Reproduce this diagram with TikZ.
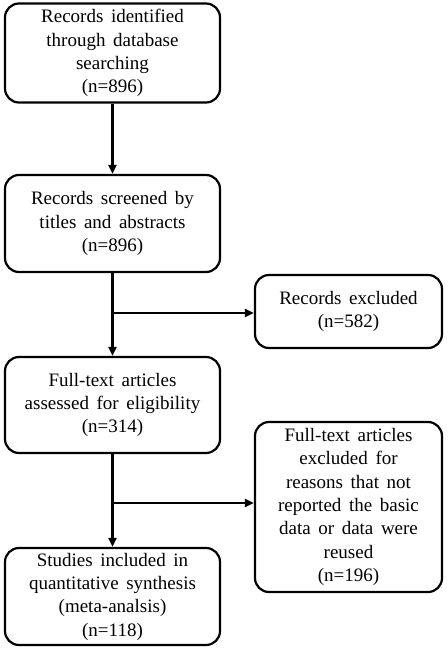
\documentclass[tikz,border=0pt]{standalone}
\usepackage{fontspec}
\setmainfont{Liberation Serif}
\usetikzlibrary{arrows.meta}
\newcommand{\myboxfont}{\fontsize{19}{23.3}\selectfont\spaceskip=0.4em plus 0.1em\relax}
\begin{document}
\begin{tikzpicture}[x=1pt,y=-1pt,
  box/.style={draw=black,line width=2.2pt,rounded corners=14pt,align=center,
    inner sep=0pt,minimum width=#1,font=\myboxfont},
  box/.default=215pt,
  conn/.style={line width=2.2pt,-{Triangle[length=9pt,width=8pt]}}]
\useasboundingbox (0,0) rectangle (447,650);
\node[box,minimum height=99pt] (b1) at (112.5,53) {Records identified\\through database\\searching\\(n=896)};
\node[box,minimum height=97pt] (b2) at (112.5,223.5) {Records screened by\\titles and abstracts\\(n=896)};
\node[box=187pt,minimum height=73pt] (b3) at (348.5,311.5) {Records excluded\\(n=582)};
\node[box,minimum height=96pt] (b4) at (112.5,405) {Full-text articles\\assessed for eligibility\\(n=314)};
\node[box=187pt,minimum height=170pt] (b5) at (348.5,507) {Full-text articles\\excluded for\\reasons that not\\reported the basic\\data or data were\\reused\\(n=196)};
\node[box,minimum height=97pt] (b6) at (112.5,596.5) {Studies included in\\quantitative synthesis\\(meta-analsis)\\(n=118)};
\draw[conn] (b1) -- (b2);
\draw[conn] (b2) -- (b4);
\draw[conn] (b4) -- (b6);
\coordinate (j1) at (b2.south |- 0,313);
\coordinate (j2) at (b4.south |- 0,503);
\draw[conn] (j1) -- (j1 -| b3.west);
\draw[conn] (j2) -- (j2 -| b5.west);
\end{tikzpicture}
\end{document}
